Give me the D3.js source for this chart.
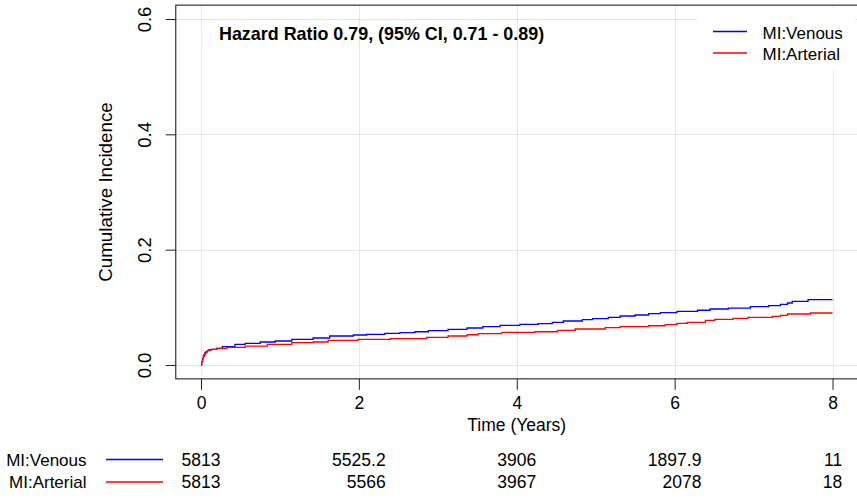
<!DOCTYPE html>
<html><head><meta charset="utf-8">
<script src="https://cdn.jsdelivr.net/npm/d3@7"></script>
<style>
body{margin:0;background:#fff}
svg{display:block}
text{font-family:"Liberation Sans",Arial,sans-serif;fill:#000}
</style></head><body>
<svg id="chart" width="857" height="498"></svg>
<script>
// ---- data ----
const seriesNames = ["MI:Venous", "MI:Arterial"];
const seriesColors = ["#0000ff", "#ff0000"];
const venousTime = [0,0.008,0.02,0.03,0.04,0.05,0.065,0.08,0.1,0.13,0.2,0.27,0.43,0.56,0.75,0.94,1.15,1.42,1.63,1.93,2.10,2.33,2.52,2.71,2.88,3.13,3.37,3.57,3.79,4.04,4.27,4.45,4.59,4.83,4.96,5.16,5.31,5.50,5.67,5.82,6.03,6.29,6.45,6.68,6.96,7.19,7.34,7.43,7.49,7.69,8.0];
const venousCI   = [0,0.006,0.011,0.015,0.018,0.021,0.023,0.025,0.026,0.027,0.029,0.0317,0.0359,0.0376,0.0399,0.0416,0.0446,0.0468,0.0503,0.0520,0.0532,0.0550,0.0560,0.0577,0.0595,0.0619,0.0642,0.0664,0.0688,0.0706,0.0716,0.0740,0.0763,0.0786,0.0803,0.0827,0.0850,0.0867,0.0890,0.0907,0.0931,0.0949,0.0971,0.0988,0.1011,0.1028,0.1053,0.1075,0.1105,0.1132,0.1132];
const arterialTime = [0,0.008,0.02,0.03,0.04,0.05,0.065,0.08,0.1,0.13,0.2,0.33,0.56,0.84,1.15,1.42,1.61,1.99,2.40,2.86,3.13,3.37,3.51,3.81,4.23,4.52,4.74,5.12,5.31,5.67,5.88,6.03,6.16,6.39,6.51,6.74,6.93,7.24,7.34,7.43,7.72,8.0];
const arterialCI   = [0,0.006,0.011,0.015,0.018,0.021,0.023,0.025,0.026,0.027,0.029,0.0307,0.0329,0.0359,0.0387,0.0399,0.0428,0.0446,0.0456,0.0480,0.0503,0.0525,0.0543,0.0567,0.0577,0.0602,0.0624,0.0647,0.0664,0.0681,0.0699,0.0723,0.0740,0.0775,0.0792,0.0810,0.0827,0.0844,0.0862,0.0884,0.0902,0.0902];
const xTicks = [0, 2, 4, 6, 8];
const yTicks = [0, 0.2, 0.4, 0.6];
const yTickLabels = ["0.0", "0.2", "0.4", "0.6"];
const riskTimes = [0, 2, 4, 6, 8];
const riskVenous = ["5813", "5525.2", "3906", "1897.9", "11"];
const riskArterial = ["5813", "5566", "3967", "2078", "18"];
const annotation = "Hazard Ratio 0.79, (95% CI, 0.71 - 0.89)";
const xTitle = "Time (Years)";
const yTitle = "Cumulative Incidence";

(function () {
// ---- scales ----
const x = d3.scaleLinear().domain([0, 8]).range([201, 832.5]);
const y = d3.scaleLinear().domain([0, 0.6]).range([365, 19]);
const xPad = 0.32, yPad = 0.024;
const svg = d3.select("#chart");

const boxL = x(-xPad), boxR = x(8 + xPad), boxT = y(0.6 + yPad), boxB = y(-yPad);

// grid
const grid = svg.append("g").attr("stroke", "#e6e6e6").attr("stroke-width", 1);
grid.selectAll(".gx").data(xTicks).join("line")
  .attr("x1", d => Math.round(x(d)) + 0.5).attr("x2", d => Math.round(x(d)) + 0.5)
  .attr("y1", boxT).attr("y2", boxB);
grid.selectAll(".gy").data(yTicks).join("line")
  .attr("y1", d => Math.round(y(d)) + 0.5).attr("y2", d => Math.round(y(d)) + 0.5)
  .attr("x1", boxL).attr("x2", boxR);

// legend background
svg.append("rect").attr("x", 697).attr("y", 8).attr("width", 158).attr("height", 62).attr("fill", "#fff");

// curves
const line = d3.line().x(d => x(d[0])).y(d => y(d[1])).curve(d3.curveStepAfter);
const venous = venousTime.map((t, i) => [t, venousCI[i]]);
const arterial = arterialTime.map((t, i) => [t, arterialCI[i]]);
[[venous, 0], [arterial, 1]].forEach(([data, i]) => {
  svg.append("path").datum(data).attr("d", line)
    .attr("fill", "none").attr("stroke", seriesColors[i]).attr("stroke-width", 1.3);
});

// box
svg.append("rect").attr("x", boxL).attr("y", boxT).attr("width", boxR - boxL).attr("height", boxB - boxT)
  .attr("fill", "none").attr("stroke", "#333").attr("stroke-width", 1.2);

// x axis
const xAxis = d3.axisBottom(x).tickValues(xTicks).tickSize(11).tickFormat(d3.format("d"));
const gx = svg.append("g").attr("transform", `translate(0,${boxB})`).call(xAxis);
gx.select(".domain").remove();
gx.selectAll("line").attr("stroke", "#222");
gx.selectAll("text").attr("font-size", 17.5).attr("font-family", '"Liberation Sans",Arial,sans-serif').attr("fill", "#000")
  .attr("dy", null).attr("y", 30);

// y axis
const yAxis = d3.axisLeft(y).tickValues(yTicks).tickSize(10).tickFormat((d, i) => yTickLabels[i]);
const gy = svg.append("g").attr("transform", `translate(${boxL},0)`).call(yAxis);
gy.select(".domain").remove();
gy.selectAll("line").attr("stroke", "#222");
gy.selectAll("text").attr("font-size", 18.5).attr("font-family", '"Liberation Sans",Arial,sans-serif').attr("fill", "#000")
  .attr("text-anchor", "middle").attr("x", null).attr("dy", null)
  .attr("transform", `translate(${150.5 - boxL},0) rotate(-90)`);

// axis titles
svg.append("text").attr("x", (x(0) + x(8)) / 2).attr("y", 431).attr("text-anchor", "middle")
  .attr("font-size", 17.5).text(xTitle);
svg.append("text").attr("transform", `translate(111.5,${(boxT + boxB) / 2}) rotate(-90)`)
  .attr("text-anchor", "middle").attr("font-size", 18.8).text(yTitle);

// annotation
svg.append("text").attr("x", 219).attr("y", 40).attr("font-size", 17.9).attr("font-weight", "bold").text(annotation);

// legend
seriesNames.forEach((n, i) => {
  const yy = 31.5 + i * 21.5;
  svg.append("line").attr("x1", 713).attr("x2", 747).attr("y1", yy).attr("y2", yy)
    .attr("stroke", seriesColors[i]).attr("stroke-width", 1.3);
  svg.append("text").attr("x", 762.5).attr("y", yy + 7).attr("font-size", 17).text(n);
});

// risk table
const rows = [riskVenous, riskArterial];
const rowY = [459.5, 482];
rows.forEach((vals, r) => {
  svg.append("text").attr("x", 86.5).attr("y", rowY[r] + 6.3).attr("text-anchor", "end")
    .attr("font-size", 17).text(seriesNames[r]);
  svg.append("line").attr("x1", 106).attr("x2", 163).attr("y1", rowY[r]).attr("y2", rowY[r])
    .attr("stroke", seriesColors[r]).attr("stroke-width", 1.3);
});
const meas = svg.append("text").attr("font-size", 17.5).attr("visibility", "hidden");
riskTimes.forEach((t, c) => {
  const w = Math.max(...rows.map(v => { meas.text(v[c]); return meas.node().getComputedTextLength(); }));
  rows.forEach((vals, r) => {
    svg.append("text").attr("x", x(t) + w / 2).attr("y", rowY[r] + 6.3).attr("text-anchor", "end")
      .attr("font-size", 17.5).text(vals[c]);
  });
});
meas.remove();
})();
</script>
</body></html>
